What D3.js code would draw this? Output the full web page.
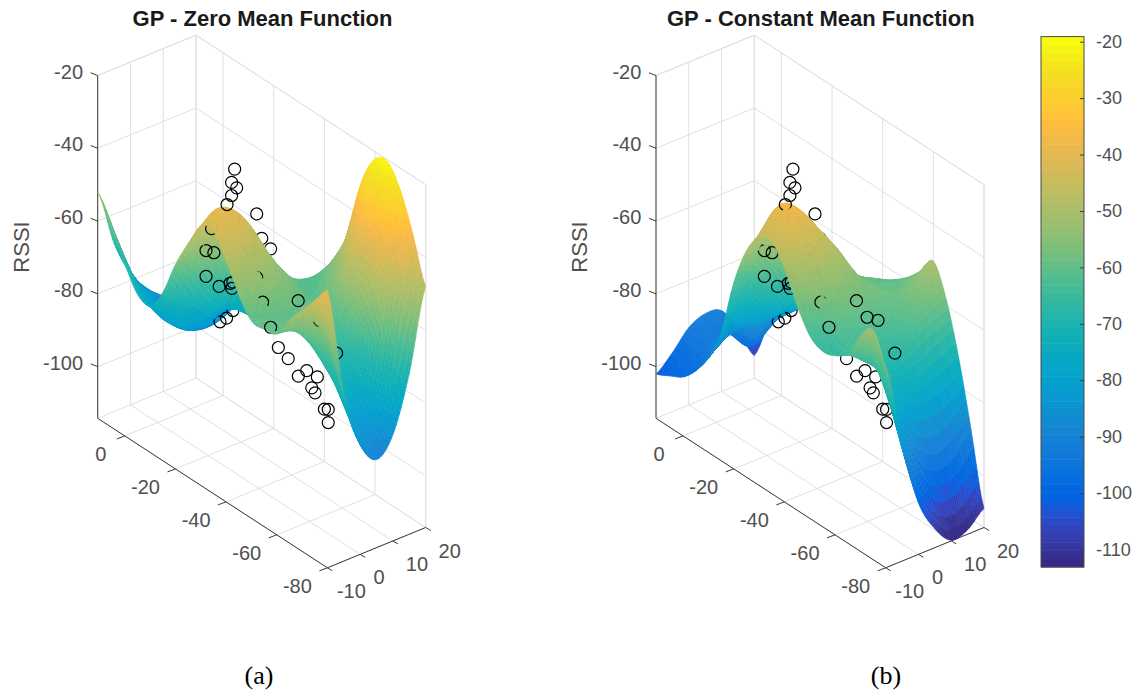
<!DOCTYPE html>
<html>
<head>
<meta charset="utf-8">
<style>
  body { margin: 0; background: #fff; }
  text { font-family: "Liberation Sans", Arial, sans-serif; }
</style>
<script src="https://cdn.jsdelivr.net/npm/d3@7"></script>
</head>
<body>
<svg id="chart" width="1132" height="690"></svg>
<script>
// grid the surfaces are sampled on
const gridX = [-10, -5, 0, 5, 10, 15, 20];
const gridY = [10.7, 5, 0, -5, -10, -15, -20, -25, -30, -35, -40, -45, -50, -55, -60, -65, -70, -75, -80];

// RSSI, one row per gridY, one column per gridX
const zeroMean = [
  [-52, -68, -78, -84, -88, -92, -95],
  [-60, -72, -80, -85, -89, -92, -95],
  [-67, -76, -82, -86, -89, -92, -92],
  [-73, -79, -83, -86, -88, -89, -83],
  [-74, -80, -84, -86, -86, -84, -83],
  [-68, -77, -81, -80, -80, -80, -80],
  [-58, -64, -72, -75, -78, -80, -82],
  [-50, -50, -58, -70, -77, -80, -82],
  [-43, -40, -44, -55, -68, -74, -76],
  [-42, -41, -43, -52, -63, -68, -71],
  [-48, -47, -48, -54, -60, -62, -62],
  [-55, -53, -53, -56, -61, -60, -55],
  [-60, -58, -57, -59, -61, -56, -46],
  [-60, -60, -60, -61, -60, -48, -30],
  [-59, -60, -64, -65, -58, -38, -22],
  [-53, -57, -68, -70, -60, -34, -20.5],
  [-48, -54, -72, -76, -66, -38, -26],
  [-43, -58, -78, -84, -76, -50, -36],
  [-38, -68, -84, -90, -85, -70, -48],
];
const constMean = [
  [-102, -98, -93, -91, -92, -99, -108],
  [-100, -97, -94, -93, -96, -100, -97],
  [-98, -96, -92, -91, -97, -95, -91],
  [-94, -91, -88, -88, -92, -88, -87],
  [-88, -84, -83, -85, -85, -85, -84],
  [-79, -75, -78, -80, -81, -81, -82],
  [-63, -64, -72, -76, -77, -78, -78],
  [-52, -52, -60, -70, -76, -78, -78],
  [-46, -40, -44, -55, -66, -72, -74],
  [-45, -38, -41, -50, -58, -64, -68],
  [-50, -44, -44, -49, -58, -62, -65],
  [-58, -52, -50, -52, -58, -60, -62],
  [-64, -58, -55, -56, -58, -60, -59],
  [-66, -62, -60, -60, -59, -58, -55],
  [-65, -64, -63, -63, -61, -56, -50],
  [-62, -66, -67, -67, -63, -60, -58],
  [-55, -66, -74, -76, -76, -74, -72],
  [-51, -73, -85, -94, -97, -95, -90],
  [-59, -82, -100, -109, -114, -113, -109],
];

// measurements, same in both panels
const pointX = [-5, -5, -5, -5, -5, -2, 8, 8, 8, 0, -5, -5, -5, -5, -5, -5, -5, -5,
  -4, -5.5, -5, -9, 8, 8, 8, 8, 2, 2, 2, 2, 2, 2, 2, 2, 2, 2, -4, -4, 0];
const pointY = [-36.9, -35.7, -37.7, -35.7, -33.9, -32.8, -28.8, -30.8, -34.3, -36.5, -25.6, -28.7, -25.6, -27.8, -30.8, -35.1, -35.8, -36.2,
  -44.3, -48.6, -62, -56.3, -14.3, -16.9, -19.4, -23.5, -45.1, -49, -53, -56.3, -60.5, -58.3, -59.6, -63.3, -64.8, -64.8, -64.9, -69.2, -70.7];
const pointZ = [-26, -30.2, -30.8, -33.8, -37.1, -42.6, -46.8, -52.6, -53.9, -50.2, -60.6, -52.7, -53.5, -46.5, -61, -58.2, -59.3, -57.4,
  -52.8, -57.1, -50.8, -59.2, -83, -80.8, -77.6, -72.9, -73.9, -75.2, -78.2, -75.2, -75, -79, -79.8, -82.6, -82, -85.6, -54.4, -53.3, -63.1];

const xTicks = [-10, 0, 10, 20];
const yTicks = [0, -20, -40, -60, -80];
const zTicks = [-20, -40, -60, -80, -100];
const barTicks = [-20, -30, -40, -50, -60, -70, -80, -90, -100, -110];

const titles = ["GP - Zero Mean Function", "GP - Constant Mean Function"];
const captions = ["(a)", "(b)"];

// parula, 64 steps
const parula = [
  [.2081,.1663,.5292],[.2116,.1898,.5777],[.2123,.2138,.6270],[.2081,.2386,.6771],[.1959,.2645,.7279],[.1707,.2919,.7792],[.1253,.3242,.8303],[.0591,.3598,.8683],
  [.0117,.3875,.8820],[.0060,.4086,.8828],[.0165,.4266,.8786],[.0329,.4430,.8720],[.0498,.4586,.8641],[.0629,.4737,.8554],[.0723,.4887,.8467],[.0779,.5040,.8384],
  [.0793,.5200,.8312],[.0749,.5375,.8263],[.0641,.5570,.8240],[.0488,.5772,.8228],[.0343,.5966,.8199],[.0265,.6137,.8135],[.0239,.6287,.8038],[.0231,.6418,.7913],
  [.0228,.6535,.7768],[.0267,.6642,.7607],[.0384,.6743,.7436],[.0590,.6838,.7254],[.0843,.6928,.7062],[.1133,.7015,.6859],[.1453,.7098,.6646],[.1801,.7177,.6424],
  [.2178,.7250,.6193],[.2586,.7317,.5954],[.3022,.7376,.5712],[.3482,.7424,.5473],[.3953,.7459,.5244],[.4420,.7481,.5033],[.4871,.7491,.4840],[.5300,.7491,.4661],
  [.5709,.7485,.4494],[.6099,.7473,.4337],[.6473,.7456,.4188],[.6834,.7435,.4044],[.7184,.7411,.3905],[.7525,.7384,.3768],[.7858,.7356,.3633],[.8185,.7327,.3498],
  [.8507,.7299,.3360],[.8824,.7274,.3217],[.9139,.7258,.3063],[.9450,.7261,.2886],[.9739,.7314,.2666],[.9938,.7455,.2403],[.9990,.7653,.2164],[.9955,.7861,.1967],
  [.9880,.8066,.1794],[.9789,.8271,.1633],[.9697,.8481,.1475],[.9626,.8705,.1309],[.9589,.8949,.1132],[.9598,.9218,.0948],[.9661,.9514,.0755],[.9763,.9831,.0538],
].map((c) => d3.rgb(c[0] * 255, c[1] * 255, c[2] * 255).formatHex());

const colorMin = -113.1, colorMax = -19.1;
const color = d3.scaleQuantize().domain([colorMin, colorMax]).range(parula);

// box of the 3D axes
const xMin = -10, xMax = 20, yMin = -80, yMax = 10.7, zMin = -114.2, zMax = -20;

// screen offset of each box edge, the view is orthographic
const xPos = d3.scaleLinear().domain([xMin, xMax]).range([0, 1]);
const yPos = d3.scaleLinear().domain([yMax, yMin]).range([0, 1]);
const zPos = d3.scaleLinear().domain([zMin, zMax]).range([0, 342.8]);

const svg = d3.select("#chart");

function project(x, y, z, ox) {
  var a = xPos(x), b = yPos(y);
  return [ox + 97.7 + a * 98.3 + b * 229.7, 418.3 - a * 40.3 + b * 149.5 - zPos(z)];
}
// distance towards the viewer, for the painter's sort (elevation about 31 deg)
function depth(x, y, z) {
  var a = xPos(x), b = yPos(y);
  return (-a * 40.3 + b * 149.5) * 1.656 + zPos(z) * 0.604;
}

function catmull(p0, p1, p2, p3, t) {
  return 0.5 * (2 * p1 + (p2 - p0) * t + (2 * p0 - 5 * p1 + 4 * p2 - p3) * t * t + (3 * p1 - p0 - 3 * p2 + p3) * t * t * t);
}
function sampleRow(arr, u) {
  var n = arr.length - 1;
  var i = Math.min(Math.floor(u), n - 1);
  var t = u - i;
  return catmull(arr[Math.max(i - 1, 0)], arr[i], arr[i + 1], arr[Math.min(i + 2, n)], t);
}

function drawPanel(values, ox, title) {
  const g = svg.append("g");
  const line = d3.line();
  const gridColor = "#e0e0e0";
  const axisColor = "#3a3a3a";

  // back walls and floor
  const grid = g.append("g").attr("stroke", gridColor).attr("stroke-width", 1).attr("fill", "none");
  xTicks.forEach(function (t) {
    grid.append("path").attr("d", line([project(t, yMax, zMin, ox), project(t, yMax, zMax, ox)]));
    grid.append("path").attr("d", line([project(t, yMax, zMin, ox), project(t, yMin, zMin, ox)]));
  });
  yTicks.forEach(function (t) {
    grid.append("path").attr("d", line([project(xMax, t, zMin, ox), project(xMax, t, zMax, ox)]));
    grid.append("path").attr("d", line([project(xMin, t, zMin, ox), project(xMax, t, zMin, ox)]));
  });
  zTicks.forEach(function (t) {
    grid.append("path").attr("d", line([project(xMin, yMax, t, ox), project(xMax, yMax, t, ox), project(xMax, yMin, t, ox)]));
  });
  grid.append("path").attr("d", line([project(xMax, yMax, zMin, ox), project(xMax, yMax, zMax, ox)]));
  grid.append("path").attr("d", line([project(xMax, yMin, zMin, ox), project(xMax, yMin, zMax, ox)]));
  grid.append("path").attr("d", line([project(xMin, yMax, zMax, ox), project(xMax, yMax, zMax, ox), project(xMax, yMin, zMax, ox)]));
  grid.append("path").attr("d", line([project(xMin, yMax, zMin, ox), project(xMax, yMax, zMin, ox), project(xMax, yMin, zMin, ox)]));

  // axes
  const axes = g.append("g").attr("stroke", axisColor).attr("stroke-width", 1).attr("fill", "none");
  axes.append("path").attr("d", line([project(xMin, yMax, zMax, ox), project(xMin, yMax, zMin, ox), project(xMin, yMin, zMin, ox), project(xMax, yMin, zMin, ox)]));
  const labels = g.append("g").attr("fill", "#505050").attr("font-size", 20).attr("text-anchor", "middle");
  zTicks.forEach(function (t) {
    var p = project(xMin, yMax, t, ox);
    axes.append("path").attr("d", line([p, [p[0] - 7, p[1] - 2.7]]));
    labels.append("text").attr("x", p[0] - 14.7).attr("y", p[1] + 3).attr("text-anchor", "end").text(t);
  });
  yTicks.forEach(function (t) {
    var p = project(xMin, t, zMin, ox);
    axes.append("path").attr("d", line([p, [p[0] - 8, p[1] + 3]]));
    labels.append("text").attr("x", p[0] - (t === 0 ? 24 : 30)).attr("y", p[1] + 25).text(t);
  });
  xTicks.forEach(function (t) {
    var p = project(t, yMin, zMin, ox);
    axes.append("path").attr("d", line([p, [p[0] + 5, p[1] + 3]]));
    labels.append("text").attr("x", p[0] + (t === 0 ? 19 : 24)).attr("y", p[1] + 30).text(t);
  });
  labels.append("text")
    .attr("transform", "translate(" + (ox + 29) + ",247) rotate(-90)")
    .attr("font-size", 22)
    .text("RSSI");

  // surface cells and markers go through one far-to-near sort
  const cols = 10 * (gridX.length - 1), rows = 5 * (gridY.length - 1);
  const xAt = d3.scaleLinear().domain([0, gridX.length - 1]).range([xMin, xMax]);
  const fine = d3.range(rows + 1).map(function (j) {
    var v = j / 5;
    var k = Math.min(Math.floor(v), gridY.length - 2);
    var col = d3.range(gridX.length).map(function (i) {
      return sampleRow(values.map((r) => r[i]), v);
    });
    var yv = gridY[k] + (gridY[k + 1] - gridY[k]) * (v - k);
    return d3.range(cols + 1).map(function (i) {
      var u = i / 10;
      return [xAt(u), yv, sampleRow(col, u)];
    });
  });

  const items = [];
  for (let j = 0; j < rows; j++) {
    for (let i = 0; i < cols; i++) {
      const c = [fine[j][i], fine[j][i + 1], fine[j + 1][i + 1], fine[j + 1][i]];
      const mx = d3.mean(c, (d) => d[0]), my = d3.mean(c, (d) => d[1]), mz = d3.mean(c, (d) => d[2]);
      items.push({
        depth: depth(mx, my, mz),
        d: line(c.map((d) => project(d[0], d[1], d[2], ox))) + "Z",
        fill: color(mz),
      });
    }
  }
  pointX.forEach(function (x, i) {
    var p = project(x, pointY[i], pointZ[i], ox);
    items.push({ depth: depth(x, pointY[i], pointZ[i]), cx: p[0], cy: p[1] });
  });
  items.sort((a, b) => a.depth - b.depth);

  const surf = g.append("g");
  items.forEach(function (it) {
    if (it.d) {
      surf.append("path").attr("d", it.d).attr("fill", it.fill).attr("stroke", it.fill).attr("stroke-width", 0.6);
    } else {
      surf.append("circle").attr("cx", it.cx).attr("cy", it.cy).attr("r", 6).attr("fill", "none").attr("stroke", "#000").attr("stroke-width", 1.2);
    }
  });

  g.append("text")
    .attr("x", ox + 262.5).attr("y", 26)
    .attr("text-anchor", "middle")
    .attr("font-size", 22).attr("font-weight", "bold").attr("fill", "#1a1a1a")
    .text(title);
  return g;
}

drawPanel(zeroMean, 0, titles[0]);
drawPanel(constMean, 558.3, titles[1]);

// captions
svg.append("text").attr("x", 259).attr("y", 684).attr("text-anchor", "middle")
  .style("font-family", "'Liberation Serif', serif").attr("font-size", 26).text(captions[0]);
svg.append("text").attr("x", 886).attr("y", 684).attr("text-anchor", "middle")
  .style("font-family", "'Liberation Serif', serif").attr("font-size", 26).text(captions[1]);

// colorbar
const barScale = d3.scaleLinear().domain([colorMin, colorMax]).range([567, 36.6]);
const bar = svg.append("g");
parula.forEach(function (c, i) {
  var lo = colorMin + (colorMax - colorMin) * i / 64, hi = colorMin + (colorMax - colorMin) * (i + 1) / 64;
  bar.append("rect").attr("x", 1041).attr("width", 43)
    .attr("y", barScale(hi)).attr("height", barScale(lo) - barScale(hi) + 0.5)
    .attr("fill", c);
});
bar.append("rect").attr("x", 1041).attr("width", 43).attr("y", 36.6).attr("height", 530.4)
  .attr("fill", "none").attr("stroke", "#4a4a4a");
const barAxis = svg.append("g").attr("transform", "translate(1084,0)")
  .call(d3.axisRight(barScale).tickValues(barTicks).tickSize(-4).tickPadding(12).tickFormat((d) => String(d)));
barAxis.select(".domain").remove();
barAxis.selectAll("line").attr("stroke", "#3a3a3a");
barAxis.selectAll("text").attr("font-size", 18).attr("fill", "#505050").style("font-family", "'Liberation Sans', Arial, sans-serif");
</script>
</body>
</html>
